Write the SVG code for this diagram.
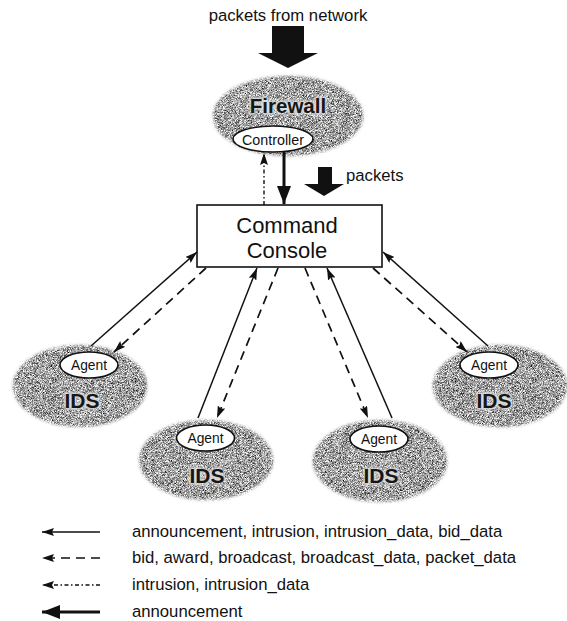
<svg xmlns="http://www.w3.org/2000/svg" width="567" height="621" viewBox="0 0 567 621">
  <style>
    .lbl { font-family: "Liberation Sans", Arial, sans-serif; fill: #111; }
    .big { font-size: 22px; text-anchor: middle; }
    .mid { font-size: 16.7px; }
    .small { font-size: 13.8px; text-anchor: middle; }
    .host { font-family: "Liberation Sans", Arial, sans-serif; font-weight: bold; text-anchor: middle; fill: #161616; }
    .halo { stroke: #dcdcdc; stroke-width: 3; fill: #dcdcdc; filter: url(#soft); }
    .inner { fill: #fff; stroke: #111; stroke-width: 1.6; }
    .cloud { fill: #000; filter: url(#grain); }
    .solid { fill: none; stroke: #111; stroke-width: 1.5; }
    .dash { fill: none; stroke: #111; stroke-width: 1.7; stroke-dasharray: 9 6; }
    .dashdot { fill: none; stroke: #111; stroke-width: 1.4; stroke-dasharray: 4 2.5 1.5 2.5; }
    .thick { fill: none; stroke: #111; stroke-width: 3; }
    .block { fill: #111; }
  </style>
  <defs>
    <filter id="grain" x="-10%" y="-10%" width="120%" height="120%" color-interpolation-filters="sRGB">
      <feGaussianBlur in="SourceAlpha" stdDeviation="1.8" result="shape"/>
      <feTurbulence type="fractalNoise" baseFrequency="1.6" numOctaves="2" seed="7" result="noise"/>
      <feColorMatrix in="noise" type="matrix" values="1.7 0 0 0 -0.22  1.7 0 0 0 -0.22  1.7 0 0 0 -0.22  0 0 0 0 1" result="speck"/>
      <feComposite in="speck" in2="shape" operator="in"/>
    </filter>
    <filter id="soft" x="-20%" y="-40%" width="140%" height="180%">
      <feGaussianBlur stdDeviation="1.5"/>
    </filter>
    <marker id="head" viewBox="0 0 12 8" markerWidth="12" markerHeight="8" refX="12" refY="4" orient="auto" markerUnits="userSpaceOnUse">
      <path d="M0,0 L12,4 L0,8 L2,4 z" fill="#111"/>
    </marker>
    <marker id="headBig" viewBox="0 0 18 14" markerWidth="18" markerHeight="14" refX="18" refY="7" orient="auto" markerUnits="userSpaceOnUse">
      <path d="M0,0 L18,7 L0,14 z" fill="#111"/>
    </marker>
  </defs>

  <!-- incoming traffic -->
  <text class="lbl mid" x="288" y="21" text-anchor="middle">packets from network</text>
  <path class="block" d="M272,26 H304 V53 H318 L288,68 L258,53 H272 z"/>

  <!-- firewall host -->
  <g id="firewall">
    <ellipse class="cloud" cx="288" cy="116" rx="75" ry="40"/>
    <text class="host halo" x="288" y="113" font-size="20.5">Firewall</text>
    <text class="host" x="288" y="113" font-size="20.5">Firewall</text>
  </g>
  <g id="controller">
    <ellipse class="inner" cx="273" cy="139" rx="40" ry="13"/>
    <text class="lbl" x="273" y="144.5" font-size="14.3" text-anchor="middle">Controller</text>
  </g>

  <!-- packets forwarded to the console -->
  <g id="packets">
    <path class="block" d="M318,167 H332 V184 H344 L324,196 L304,184 H318 z"/>
    <text class="lbl mid" x="346" y="181">packets</text>
  </g>

  <!-- command console -->
  <g id="console">
    <rect x="197" y="205" width="185" height="62" fill="#fff" stroke="#111" stroke-width="1.6"/>
    <text class="lbl big" x="287" y="233">Command</text>
    <text class="lbl big" x="287" y="258">Console</text>
  </g>

  <!-- IDS hosts -->
  <g id="ids-1">
    <ellipse class="cloud" cx="80" cy="386" rx="67" ry="41"/>
    <ellipse class="inner" cx="89" cy="365" rx="29" ry="13"/>
    <text class="lbl small" x="89" y="370">Agent</text>
    <text class="host halo" x="82" y="408" font-size="21">IDS</text>
    <text class="host" x="82" y="408" font-size="21">IDS</text>
  </g>
  <g id="ids-2">
    <ellipse class="cloud" cx="206" cy="460" rx="67" ry="40"/>
    <ellipse class="inner" cx="205.5" cy="438" rx="29" ry="13"/>
    <text class="lbl small" x="205.5" y="443">Agent</text>
    <text class="host halo" x="207" y="483" font-size="21">IDS</text>
    <text class="host" x="207" y="483" font-size="21">IDS</text>
  </g>
  <g id="ids-3">
    <ellipse class="cloud" cx="380" cy="461" rx="67" ry="41"/>
    <ellipse class="inner" cx="379" cy="439" rx="29" ry="13"/>
    <text class="lbl small" x="379" y="444">Agent</text>
    <text class="host halo" x="381" y="483" font-size="21">IDS</text>
    <text class="host" x="381" y="483" font-size="21">IDS</text>
  </g>
  <g id="ids-4">
    <ellipse class="cloud" cx="500" cy="386" rx="67" ry="41"/>
    <ellipse class="inner" cx="489" cy="365" rx="29" ry="13"/>
    <text class="lbl small" x="489" y="370">Agent</text>
    <text class="host halo" x="494" y="408" font-size="21">IDS</text>
    <text class="host" x="494" y="408" font-size="21">IDS</text>
  </g>

  <!-- connectors -->
  <g id="connectors">
    <line class="dashdot" x1="264" y1="205" x2="264" y2="153" marker-end="url(#head)"/>
    <line class="thick" x1="284" y1="152" x2="284" y2="204" marker-end="url(#headBig)"/>

    <line class="solid" x1="91" y1="346" x2="197" y2="252" marker-end="url(#head)"/>
    <line class="dash" x1="206" y1="268" x2="114" y2="352" marker-end="url(#head)"/>

    <line class="solid" x1="198" y1="418" x2="257" y2="268" marker-end="url(#head)"/>
    <line class="dash" x1="278" y1="268" x2="217" y2="418" marker-end="url(#head)"/>

    <line class="dash" x1="305" y1="268" x2="368" y2="418" marker-end="url(#head)"/>
    <line class="solid" x1="392" y1="418" x2="327" y2="268" marker-end="url(#head)"/>

    <line class="dash" x1="373" y1="268" x2="467" y2="352" marker-end="url(#head)"/>
    <line class="solid" x1="488" y1="346" x2="383" y2="252" marker-end="url(#head)"/>
  </g>

  <!-- legend -->
  <g id="legend">
    <line class="solid" x1="100" y1="532" x2="42" y2="532" stroke-width="1.3" marker-end="url(#head)"/>
    <text class="lbl mid" x="132" y="537">announcement, intrusion, intrusion_data, bid_data</text>

    <line class="dash" x1="100" y1="558" x2="42" y2="558" stroke-dasharray="14 7" marker-end="url(#head)"/>
    <text class="lbl mid" x="132" y="563">bid, award, broadcast, broadcast_data, packet_data</text>

    <line class="dashdot" x1="100" y1="585" x2="42" y2="585" marker-end="url(#head)"/>
    <text class="lbl mid" x="132" y="590">intrusion, intrusion_data</text>

    <line class="thick" x1="100" y1="612" x2="42" y2="612" marker-end="url(#headBig)"/>
    <text class="lbl mid" x="132" y="617">announcement</text>
  </g>
</svg>
